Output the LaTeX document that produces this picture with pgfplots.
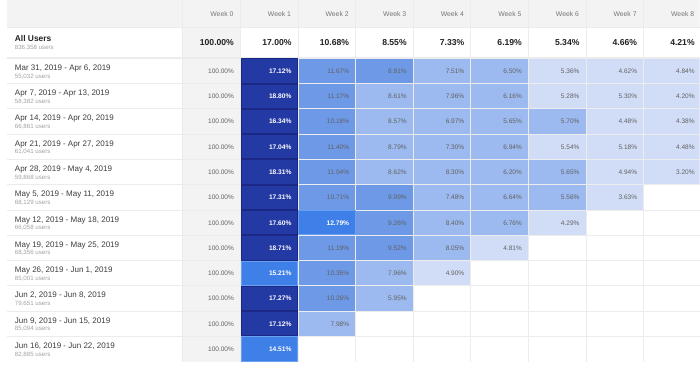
\documentclass[border=0pt]{standalone}
\usepackage{pgfplots}
\pgfplotsset{compat=1.18}
\usepackage{pgfplotstable}
\usepackage{fontspec}
\setmainfont{Liberation Sans}

\definecolor{cdark}{HTML}{2339A3}
\definecolor{cdarkb}{HTML}{1A2784}
\definecolor{cbright}{HTML}{3F7FE8}
\definecolor{cbrightb}{HTML}{69A0F0}
\definecolor{cmed}{HTML}{6D99E7}
\definecolor{clight}{HTML}{9CBAEF}
\definecolor{clightest}{HTML}{D1DDF7}
\definecolor{greyc}{HTML}{F3F3F3}
\definecolor{gridc}{HTML}{ECECEC}
\definecolor{txtc}{HTML}{616161}
\definecolor{hdrc}{HTML}{757575}
\definecolor{datec}{HTML}{3C3C3C}
\definecolor{usersc}{HTML}{A0A0A0}
\definecolor{boldc}{HTML}{212121}

% week row v   (v = 0 : no data yet)
\pgfplotstableread{
week row v
0 1 100
1 1 17.12
2 1 11.67
3 1 8.91
4 1 7.51
5 1 6.50
6 1 5.36
7 1 4.62
8 1 4.84
0 2 100
1 2 18.80
2 2 11.17
3 2 8.61
4 2 7.96
5 2 6.16
6 2 5.28
7 2 5.30
8 2 4.20
0 3 100
1 3 16.34
2 3 10.18
3 3 8.57
4 3 6.97
5 3 5.65
6 3 5.70
7 3 4.48
8 3 4.38
0 4 100
1 4 17.04
2 4 11.40
3 4 8.79
4 4 7.30
5 4 6.94
6 4 5.54
7 4 5.18
8 4 4.48
0 5 100
1 5 18.31
2 5 11.04
3 5 8.62
4 5 8.30
5 5 6.20
6 5 5.65
7 5 4.94
8 5 3.20
0 6 100
1 6 17.31
2 6 10.71
3 6 9.99
4 6 7.48
5 6 6.64
6 6 5.56
7 6 3.63
8 6 0
0 7 100
1 7 17.60
2 7 12.79
3 7 9.26
4 7 8.40
5 7 6.76
6 7 4.29
7 7 0
8 7 0
0 8 100
1 8 18.71
2 8 11.19
3 8 9.52
4 8 8.05
5 8 4.81
6 8 0
7 8 0
8 8 0
0 9 100
1 9 15.21
2 9 10.35
3 9 7.96
4 9 4.90
5 9 0
6 9 0
7 9 0
8 9 0
0 10 100
1 10 17.27
2 10 10.26
3 10 5.95
4 10 0
5 10 0
6 10 0
7 10 0
8 10 0
0 11 100
1 11 17.12
2 11 7.98
3 11 0
4 11 0
5 11 0
6 11 0
7 11 0
8 11 0
0 12 100
1 12 14.51
2 12 0
3 12 0
4 12 0
5 12 0
6 12 0
7 12 0
8 12 0
}\cells

\pgfplotstableread{
week val
0 100.00
1 17.00
2 10.68
3 8.55
4 7.33
5 6.19
6 5.34
7 4.66
8 4.21
}\allusers

\pgfdeclareplotmark{cellframe}{%
  \pgfpathrectangle{\pgfqpoint{-28.6pt}{-12.27pt}}{\pgfqpoint{57.2pt}{24.54pt}}%
  \pgfusepathqstroke}

\newcommand\metapct{\pgfmathprintnumber[fixed,fixed zerofill,precision=2,assume math mode=true]{\pgfplotspointmeta}\%}

\newcommand\rowlabel[3]{%
  \node[anchor=base west, inner sep=0pt, text=datec,
        font=\fontsize{8.1}{9}\selectfont] at (axis cs:-3.421,#1-0.024) {#2};
  \node[anchor=base west, inner sep=0pt, text=usersc,
        font=\fontsize{6.2}{7}\selectfont] at (axis cs:-3.421,#1+0.278) {#3 users};}
\newcommand\weekhdr[1]{%
  \node[anchor=base east, inner sep=0pt, text=hdrc,
        font=\fontsize{6.9}{8}\selectfont] at (axis cs:#1+0.38,-1.172) {Week #1};}

\begin{document}
\begin{tikzpicture}
\begin{axis}[
  width=700pt, height=365pt, scale only axis,
  xmin=-3.5584, xmax=8.4691, ymin=-1.7905, ymax=12.5, y dir=reverse,
  axis line style={draw=none},
  major tick length=0pt,
  xtick={-0.5,0.5,1.5,2.5,3.5,4.5,5.5,6.5,7.5},
  ytick={-0.7334,0.5,1.5,2.5,3.5,4.5,5.5,6.5,7.5,8.5,9.5,10.5,11.5},
  xticklabels={}, yticklabels={},
  grid=major, grid style={line width=1pt, draw=gridc},
  axis on top,
  colormap={cohort}{color(0pt)=(white) color(1pt)=(clightest) color(5.55pt)=(clight)
    color(8.85pt)=(cmed) color(12pt)=(cbright) color(16pt)=(cdark)
    color(99pt)=(greyc) color(100pt)=(greyc)},
  colormap access=piecewise constant,
  point meta min=0, point meta max=100,
]
% header strip and the grey Week 0 cell of the All Users row
\fill[greyc] (axis cs:-3.5584,-1.7905) rectangle (axis cs:8.4691,-0.7334);
\fill[greyc] (axis cs:-0.5,-0.7334) rectangle (axis cs:0.5,0.5);

% retention heat map
\addplot[matrix plot*, mesh/cols=9, point meta=\thisrow{v}] table[x=week, y=row] {\cells};

% frames of the darkest and bright cells
\addplot[only marks, mark=cellframe, mark options={draw=cdarkb, line width=1pt},
  restrict expr to domain={\thisrow{v}}{16:99}] table[x=week, y=row] {\cells};
\addplot[only marks, mark=cellframe, mark options={draw=cbrightb, line width=1pt},
  restrict expr to domain={\thisrow{v}}{12:15.99}] table[x=week, y=row] {\cells};

% cell values: grey text
\addplot[draw=none, mark=none, point meta=\thisrow{v},
  restrict expr to domain={\thisrow{v}}{0.5:11.99},
  nodes near coords={\metapct},
  nodes near coords style={anchor=base east, xshift=22.6pt, yshift=-2.4pt, inner sep=0pt,
    text=txtc, font=\fontsize{6.6}{7}\selectfont}] table[x=week, y=row] {\cells};
\addplot[draw=none, mark=none, point meta=\thisrow{v},
  restrict expr to domain={\thisrow{v}}{99:101},
  nodes near coords={\metapct},
  nodes near coords style={anchor=base east, xshift=22.6pt, yshift=-2.4pt, inner sep=0pt,
    text=txtc, font=\fontsize{6.6}{7}\selectfont}] table[x=week, y=row] {\cells};
% cell values: white bold text
\addplot[draw=none, mark=none, point meta=\thisrow{v},
  restrict expr to domain={\thisrow{v}}{12:99},
  nodes near coords={\metapct},
  nodes near coords style={anchor=base east, xshift=22.6pt, yshift=-2.4pt, inner sep=0pt,
    text=white, font=\fontsize{6.7}{7}\selectfont\bfseries}] table[x=week, y=row] {\cells};

% All Users row
\addplot[draw=none, mark=none, point meta=\thisrow{val},
  nodes near coords={\metapct},
  nodes near coords style={anchor=base east, xshift=22.6pt, inner sep=0pt, text=boldc,
    font=\fontsize{8.7}{10}\selectfont\bfseries}] table[x=week, y expr=-0.013] {\allusers};

\draw[line width=2pt, draw=gridc] (axis cs:-3.5584,0.5) -- (axis cs:8.4691,0.5);

\node[anchor=base west, inner sep=0pt, text=boldc, font=\fontsize{8.5}{10}\selectfont\bfseries]
  at (axis cs:-3.421,-0.166) {All Users};
\node[anchor=base west, inner sep=0pt, text=usersc, font=\fontsize{6.2}{7}\selectfont]
  at (axis cs:-3.421,0.144) {836,358 users};

\weekhdr{0}\weekhdr{1}\weekhdr{2}\weekhdr{3}\weekhdr{4}
\weekhdr{5}\weekhdr{6}\weekhdr{7}\weekhdr{8}

\rowlabel{1}{Mar 31, 2019 - Apr 6, 2019}{55,032}
\rowlabel{2}{Apr 7, 2019 - Apr 13, 2019}{58,382}
\rowlabel{3}{Apr 14, 2019 - Apr 20, 2019}{66,861}
\rowlabel{4}{Apr 21, 2019 - Apr 27, 2019}{61,041}
\rowlabel{5}{Apr 28, 2019 - May 4, 2019}{59,868}
\rowlabel{6}{May 5, 2019 - May 11, 2019}{68,129}
\rowlabel{7}{May 12, 2019 - May 18, 2019}{66,058}
\rowlabel{8}{May 19, 2019 - May 25, 2019}{68,356}
\rowlabel{9}{May 26, 2019 - Jun 1, 2019}{85,001}
\rowlabel{10}{Jun 2, 2019 - Jun 8, 2019}{79,651}
\rowlabel{11}{Jun 9, 2019 - Jun 15, 2019}{85,094}
\rowlabel{12}{Jun 16, 2019 - Jun 22, 2019}{82,885}
\end{axis}
\end{tikzpicture}
\end{document}
